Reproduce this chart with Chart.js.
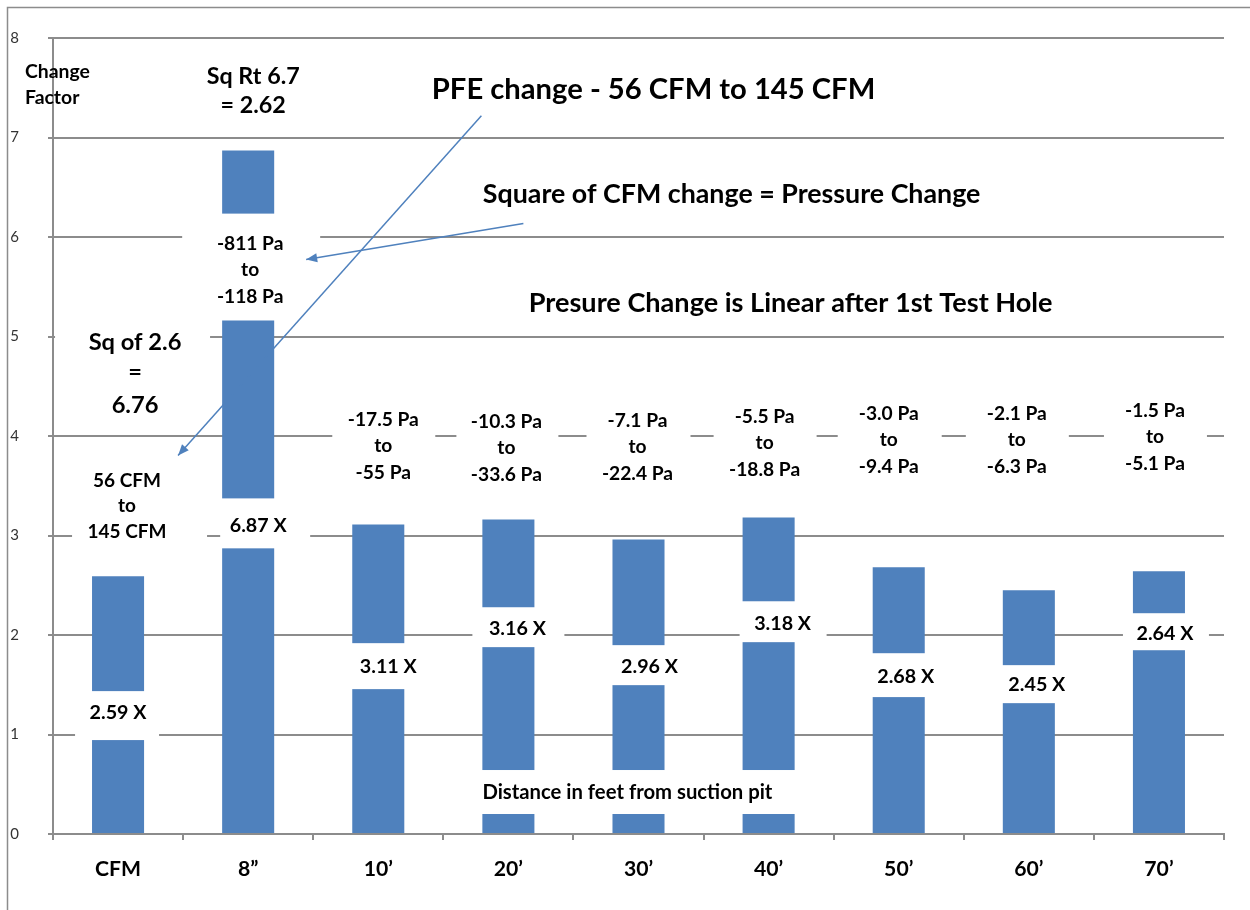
<!DOCTYPE html>
<html>
<head>
<meta charset="utf-8">
<script src="https://cdn.jsdelivr.net/npm/chart.js@4.4.1/dist/chart.umd.min.js"></script>
<style>
  html, body { margin: 0; padding: 0; background: #fff; }
  #wrap { width: 1250px; height: 910px; }
</style>
</head>
<body>
<div id="wrap"><canvas id="chart" width="1250" height="910"></canvas></div>
<script>
// values
const categories = ["CFM", "8\u201D", "10\u2019", "20\u2019", "30\u2019", "40\u2019", "50\u2019", "60\u2019", "70\u2019"];
const changeFactor = [2.59, 6.87, 3.11, 3.16, 2.96, 3.18, 2.68, 2.45, 2.64];
const yTicks = [0, 1, 2, 3, 4, 5, 6, 7, 8];
const pressureFrom = [null, "-811 Pa", "-17.5 Pa", "-10.3 Pa", "-7.1 Pa", "-5.5 Pa", "-3.0 Pa", "-2.1 Pa", "-1.5 Pa"];
const pressureTo = [null, "-118 Pa", "-55 Pa", "-33.6 Pa", "-22.4 Pa", "-18.8 Pa", "-9.4 Pa", "-6.3 Pa", "-5.1 Pa"];

const FAM = "Lato, 'Open Sans', sans-serif";
const BLUE = "#4F81BD";
const GRID = "#8c8c8c";

const mctx = document.createElement("canvas").getContext("2d");
function fit(text, target, weight) {
  mctx.font = weight + " 100px " + FAM;
  return Math.round(target / mctx.measureText(text).width * 1000) / 10;
}
const fPa = fit("-17.5 Pa", 71, "bold");
const fX = fit("2.59 X", 57, "bold");
const fCF = fit("Change", 65, "bold");
const fSqRt = fit("Sq Rt 6.7", 93, "bold");
const fPFE = fit("PFE change - 56 CFM to 145 CFM", 443, "bold");
const fSquare = fit("Square of CFM change = Pressure Change", 497, "bold");
const fPres = fit("Presure Change is Linear after 1st Test Hole", 524, "bold");
const fSqOf = fit("Sq of 2.6", 93, "bold");
const fCFM = fit("56 CFM", 68, "bold");
const fDist = fit("Distance in feet from suction pit", 290, "bold");
const fAxis = fit("CFM", 46, "bold");

// white label boxes: category, x offsets, top/bottom in axis units
const boxes = [
  {i: 0, dx0: -43, dx1: 41, v0: 1.436, v1: 0.944},
  {i: 0, dx0: -46, dx1: 89, v0: 3.755, v1: 2.791},
  {i: 0, dx0: -63, dx1: 92, v0: 5.141, v1: 4.157},
  {i: 1, dx0: -28, dx1: 62, v0: 3.373, v1: 2.871},
  {i: 1, dx0: -66, dx1: 72, v0: 6.235, v1: 5.161},
  {i: 2, dx0: -46, dx1: 57, v0: 4.408, v1: 3.434},
  {i: 3, dx0: -52, dx1: 50, v0: 4.408, v1: 3.434},
  {i: 4, dx0: -52, dx1: 52, v0: 4.408, v1: 3.434},
  {i: 5, dx0: -55, dx1: 48, v0: 4.408, v1: 3.434},
  {i: 6, dx0: -61, dx1: 43, v0: 4.408, v1: 3.434},
  {i: 7, dx0: -63, dx1: 40, v0: 4.408, v1: 3.434},
  {i: 8, dx0: -55, dx1: 48, v0: 4.408, v1: 3.434},
  {i: 2, dx0: -40, dx1: 60, v0: 1.918, v1: 1.456},
  {i: 3, dx0: -36, dx1: 56, v0: 2.279, v1: 1.878},
  {i: 4, dx0: -35, dx1: 60, v0: 1.898, v1: 1.496},
  {i: 5, dx0: -29, dx1: 58, v0: 2.339, v1: 1.928},
  {i: 6, dx0: -30, dx1: 55, v0: 1.817, v1: 1.376},
  {i: 7, dx0: -30, dx1: 55, v0: 1.697, v1: 1.315},
  {i: 8, dx0: -36, dx1: 50, v0: 2.219, v1: 1.847},
  {i: 3, dx0: -39, dx1: 292, v0: 0.643, v1: 0.201}
];

// where the "x" factor label sits for each category
const factorPos = [
  {dx: 0, v: 1.215}, {dx: 10, v: 3.102}, {dx: 10, v: 1.677}, {dx: 9, v: 2.068}, {dx: 11, v: 1.677},
  {dx: 14, v: 2.118}, {dx: 7, v: 1.586}, {dx: 8, v: 1.496}, {dx: 6, v: 2.018}
];
// pressure label block: offset and first line level
const pressurePos = [
  null, {dx: 2, v: 5.934}, {dx: 5, v: 4.167}, {dx: -2, v: 4.147}, {dx: -1, v: 4.157},
  {dx: -4, v: 4.197}, {dx: -10, v: 4.227}, {dx: -12, v: 4.227}, {dx: -4, v: 4.257}
];
const LINE_V = 0.268;

const notesPlugin = {
  id: "notes",
  beforeDraw(chart) {
    const ctx = chart.ctx;
    ctx.save();
    ctx.strokeStyle = GRID;
    ctx.lineWidth = 1.5;
    ctx.beginPath();
    ctx.moveTo(7.5, 915);
    ctx.lineTo(7.5, 7.5);
    ctx.lineTo(1260, 7.5);
    ctx.stroke();
    ctx.restore();
  },
  afterDatasetsDraw(chart) {
    const ctx = chart.ctx;
    const xs = chart.scales.x, ys = chart.scales.y;
    const px = (i, dx) => xs.getPixelForValue(i) + dx;
    const py = v => ys.getPixelForValue(v);
    ctx.save();
    ctx.fillStyle = "#fff";
    boxes.forEach(b => {
      const x0 = px(b.i, b.dx0), x1 = px(b.i, b.dx1);
      const y0 = py(b.v0), y1 = py(b.v1);
      ctx.fillRect(x0, y0, x1 - x0, y1 - y0);
    });

    ctx.fillStyle = "#000";
    ctx.textAlign = "center";
    ctx.textBaseline = "middle";
    const text = (t, x, y, size, weight) => {
      ctx.font = weight + " " + size + "px " + FAM;
      ctx.fillText(t, x, y);
    };

    changeFactor.forEach((v, i) => {
      text(v.toFixed(2) + " X", px(i, factorPos[i].dx), py(factorPos[i].v), fX, "bold");
    });
    pressureFrom.forEach((p, i) => {
      if (!p) return;
      const pos = pressurePos[i];
      text(p, px(i, pos.dx), py(pos.v), fPa, "bold");
      text("to", px(i, pos.dx), py(pos.v - LINE_V), fPa, "bold");
      text(pressureTo[i], px(i, pos.dx), py(pos.v - 2 * LINE_V), fPa, "bold");
    });

    text("56 CFM", px(0, 9), py(3.554), fCFM, "bold");
    text("to", px(0, 9), py(3.293), fCFM, "bold");
    text("145 CFM", px(0, 9), py(3.032), fCFM, "bold");

    text("Sq of 2.6", px(0, 17), py(4.94), fSqOf, "bold");
    text("=", px(0, 17), py(4.639), fSqOf, "bold");
    text("6.76", px(0, 17), py(4.307), fSqOf, "bold");

    text("Sq Rt 6.7", px(1, 5), py(7.61), fSqRt, "bold");
    text("= 2.62", px(1, 5), py(7.32), fSqRt, "bold");

    text("PFE change - 56 CFM to 145 CFM", px(4, 15), py(7.48), fPFE, "bold");
    text("Square of CFM change = Pressure Change", px(5, -37), py(6.426), fSquare, "bold");
    text("Presure Change is Linear after 1st Test Hole", px(5, 22), py(5.331), fPres, "bold");

    ctx.textAlign = "left";
    text("Distance in feet from suction pit", px(3, -26), py(0.422), fDist, "bold");
    text("Change", 25, 72, fCF, "bold");
    text("Factor", 25, 98, fCF, "bold");

    // arrows
    const arrow = (x0, y0, x1, y1) => {
      ctx.strokeStyle = BLUE;
      ctx.fillStyle = BLUE;
      ctx.lineWidth = 1.5;
      ctx.beginPath();
      ctx.moveTo(x0, y0);
      ctx.lineTo(x1, y1);
      ctx.stroke();
      const a = Math.atan2(y1 - y0, x1 - x0);
      const L = 11, W = 4.5;
      ctx.beginPath();
      ctx.moveTo(x1, y1);
      ctx.lineTo(x1 - L * Math.cos(a) + W * Math.sin(a), y1 - L * Math.sin(a) - W * Math.cos(a));
      ctx.lineTo(x1 - L * Math.cos(a) - W * Math.sin(a), y1 - L * Math.sin(a) + W * Math.cos(a));
      ctx.closePath();
      ctx.fill();
    };
    arrow(px(3, -27), py(7.219), px(0, 60), py(3.805));
    arrow(px(3, 15), py(6.135), px(1, 58), py(5.773));
    ctx.restore();
  }
};

new Chart(document.getElementById("chart"), {
  type: "bar",
  data: {
    labels: categories,
    datasets: [{
      data: changeFactor,
      backgroundColor: BLUE,
      barPercentage: 0.4,
      categoryPercentage: 1.0
    }]
  },
  options: {
    responsive: false,
    animation: false,
    layout: {padding: {top: 37, right: 26, left: 0, bottom: 0}},
    plugins: {legend: {display: false}, tooltip: {enabled: false}},
    scales: {
      x: {
        grid: {drawOnChartArea: false, drawTicks: true, tickLength: 6, color: GRID, lineWidth: 2, offset: true},
        border: {color: GRID, width: 2},
        ticks: {color: "#000", font: {family: FAM, size: fAxis, weight: "bold"}, padding: 16, maxRotation: 0},
        afterFit: s => { s.height = 76; }
      },
      y: {
        min: 0, max: 8,
        afterBuildTicks: s => { s.ticks = yTicks.map(v => ({value: v})); },
        grid: {color: GRID, lineWidth: 2, tickLength: 5},
        border: {color: GRID, width: 2},
        ticks: {color: "#333", font: {family: FAM, size: 15}, padding: 29},
        afterFit: s => { s.width = 53; }
      }
    }
  },
  plugins: [notesPlugin]
});
</script>
</body>
</html>
